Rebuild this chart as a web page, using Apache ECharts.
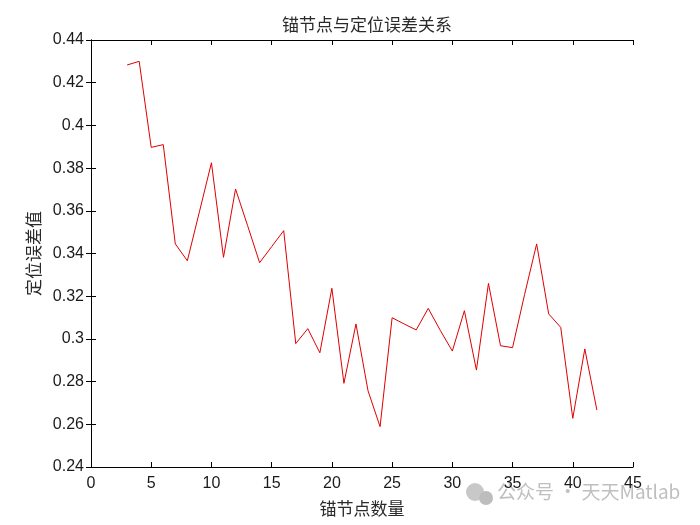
<!DOCTYPE html>
<html>
<head>
<meta charset="utf-8">
<script src="https://cdn.jsdelivr.net/npm/echarts@6/dist/echarts.min.js"></script>
<style>html,body{margin:0;padding:0;background:#fff}#c{width:700px;height:525px}</style>
</head>
<body>
<div id="c"></div>
<script>
var titleText = '锚节点与定位误差关系';
var xName = '锚节点数量';
var yName = '定位误差值';
var anchorCounts = [3,4,5,6,7,8,9,10,11,12,13,14,15,16,17,18,19,20,21,22,23,24,25,26,27,28,29,30,31,32,33,34,35,36,37,38,39,40,41,42];
var errorValues = [0.4283,0.4300,0.3897,0.3910,0.3445,0.3366,0.3595,0.3825,0.3382,0.3702,0.3531,0.3357,0.3432,0.3507,0.2978,0.3048,0.2935,0.3237,0.2792,0.3070,0.2757,0.2589,0.3099,0.3070,0.3042,0.3143,0.3040,0.2943,0.3132,0.2854,0.3260,0.2968,0.2959,0.3208,0.3445,0.3117,0.3054,0.2628,0.2953,0.2667];
var xTicks = {min:0, max:45, step:5};
var yTicks = {min:0.24, max:0.44, step:0.02};

var chart = echarts.init(document.getElementById('c'), null, {renderer:'canvas'});
var axisLine = {show:true, lineStyle:{color:'#000', width:1}};
var tickIn = {show:true, inside:true, length:5, lineStyle:{color:'#000', width:1}};
var labelFont = {color:'#1a1a1a', fontFamily:'Liberation Sans, Arial, sans-serif', fontSize:16};
var cjk = 'Noto Sans CJK SC';
chart.setOption({
  animation:false,
  backgroundColor:'#fff',
  title:{text:titleText, left:362, top:11, textAlign:'center',
    textStyle:{fontFamily:cjk, fontSize:17, fontWeight:'normal', color:'#2a2a2a'}},
  grid:{left:91, right:67, top:40, bottom:58, containLabel:false},
  xAxis:[{
    type:'value', min:xTicks.min, max:xTicks.max, interval:xTicks.step,
    position:'bottom',
    name:xName, nameLocation:'middle', nameGap:33,
    nameTextStyle:{fontFamily:cjk, fontSize:17, color:'#2a2a2a'},
    axisLine:axisLine, axisTick:tickIn, splitLine:{show:false},
    axisLabel:Object.assign({margin:9}, labelFont)
  },{
    type:'value', min:xTicks.min, max:xTicks.max, interval:xTicks.step,
    position:'top', axisLine:axisLine, axisTick:tickIn,
    splitLine:{show:false}, axisLabel:{show:false}
  }],
  yAxis:[{
    type:'value', min:yTicks.min, max:yTicks.max, interval:yTicks.step,
    position:'left',
    name:yName, nameLocation:'middle', nameGap:46,
    nameTextStyle:{fontFamily:cjk, fontSize:17, color:'#2a2a2a'},
    axisLine:axisLine, axisTick:tickIn, splitLine:{show:false},
    axisLabel:Object.assign({margin:7, formatter:function(v){return String(+v.toFixed(2));}}, labelFont)
  },{
    type:'value', min:yTicks.min, max:yTicks.max, interval:yTicks.step,
    position:'right', axisLine:axisLine, axisTick:tickIn,
    splitLine:{show:false}, axisLabel:{show:false}
  }],
  series:[{
    type:'line', xAxisIndex:0, yAxisIndex:0,
    data:anchorCounts.map(function(x,i){return [x, errorValues[i]];}),
    showSymbol:false, symbol:'none',
    lineStyle:{color:'#e00000', width:1},
    itemStyle:{color:'#e00000'}
  }],
  graphic:[
    {type:'circle', shape:{cx:475, cy:492, r:9}, style:{fill:'#c8c8c8'}, silent:true},
    {type:'circle', shape:{cx:486, cy:498, r:7}, style:{fill:'#bdbdbd'}, silent:true},
    {type:'text', left:497, top:482, style:{text:'公众号 · 天天Matlab', fill:'#bfbfbf',
      font:'19px "Noto Sans CJK SC", sans-serif'}, silent:true}
  ]
});
</script>
</body>
</html>
